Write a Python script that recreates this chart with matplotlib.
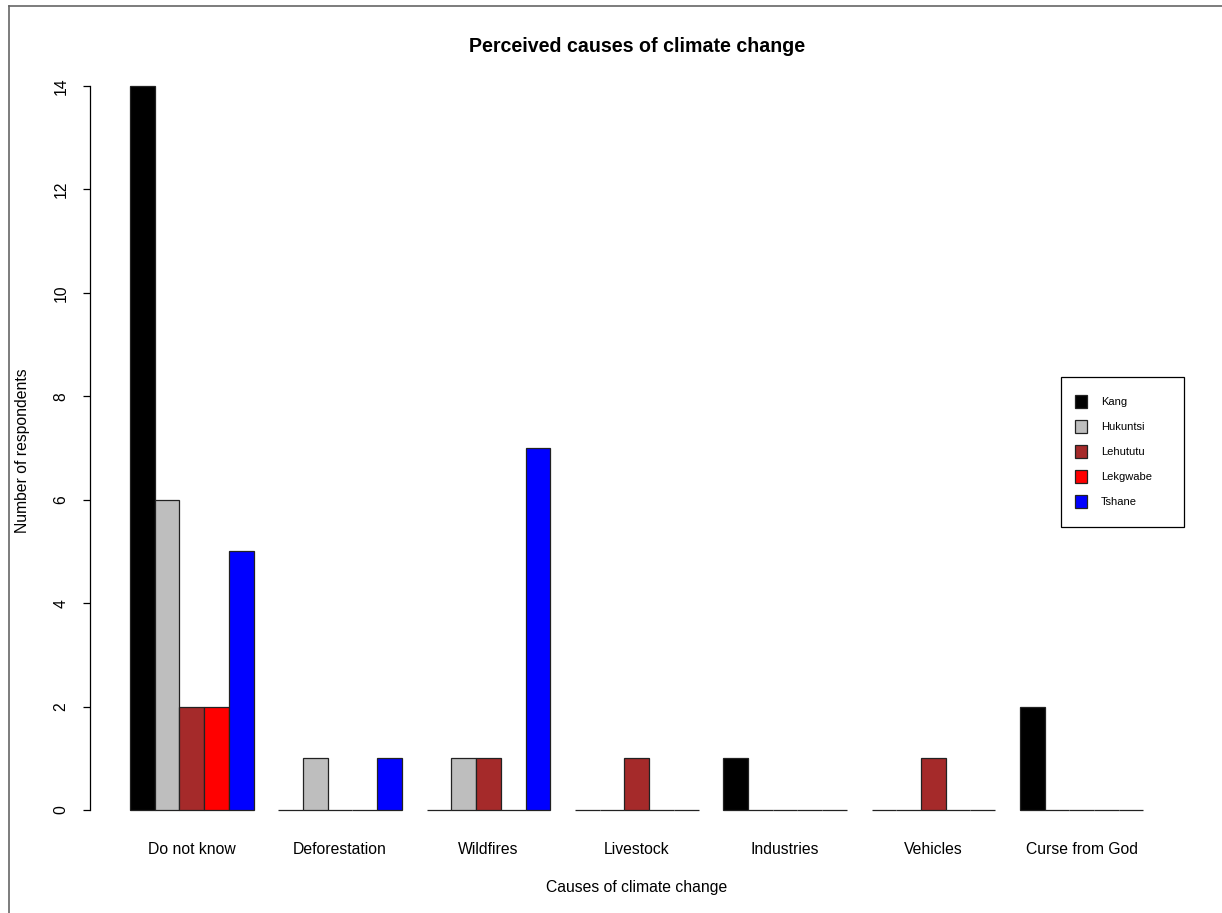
import numpy as np
import matplotlib
matplotlib.use("Agg")
import matplotlib.pyplot as plt
from matplotlib.patches import Rectangle
from matplotlib.lines import Line2D

plt.rcParams['font.family'] = ['Liberation Sans', 'DejaVu Sans']

# Data: respondents per perceived cause, by village
causes = ["Do not know", "Deforestation", "Wildfires", "Livestock",
          "Industries", "Vehicles", "Curse from God"]
villages = ["Kang", "Hukuntsi", "Lehututu", "Lekgwabe", "Tshane"]
kang = [14, 0, 0, 0, 1, 0, 2]
hukuntsi = [6, 1, 1, 0, 0, 0, 0]
lehututu = [2, 0, 1, 1, 0, 1, 0]
lekgwabe = [2, 0, 0, 0, 0, 0, 0]
tshane = [5, 1, 7, 0, 0, 0, 0]
colors = ["black", "#BEBEBE", "#A52A2A", "red", "blue"]
yticks = [0, 2, 4, 6, 8, 10, 12, 14]

series = [kang, hukuntsi, lehututu, lekgwabe, tshane]

W, H = 1222, 913
fig = plt.figure(figsize=(W / 100, H / 100), dpi=100)
ax = fig.add_axes([89.5 / W, 74 / H, (1184 - 89.5) / W, (839 - 57) / H])

# grouped bars, unit width, one empty slot between groups
n_s = len(series)
group_left = np.arange(len(causes)) * (n_s + 1) + 1
for j, (vals, col) in enumerate(zip(series, colors)):
    ax.bar(group_left + j, vals, width=1.0, align='edge', color=col,
           edgecolor='#222222', linewidth=0.9, zorder=2)

xmin, xmax = group_left[0], group_left[-1] + n_s
pad = 0.04 * (xmax - xmin)
ax.set_xlim(xmin - pad, xmax + pad)
ax.set_ylim(-0.04 * 14, 14 + 0.04 * 14)

for s in ['top', 'right', 'bottom']:
    ax.spines[s].set_visible(False)
ax.spines['left'].set_bounds(0, 14)
ax.spines['left'].set_linewidth(0.9)

ax.set_yticks(yticks)
ax.set_yticklabels([str(v) for v in yticks], rotation=90, va='center',
                   fontsize=11.3)
ax.tick_params(axis='y', length=5, width=0.9, pad=10)

ax.set_xticks(group_left + n_s / 2)
ax.set_xticklabels(causes, fontsize=11.3)
ax.tick_params(axis='x', length=0, pad=2)

fig.text(636.7 / W, 1 - 887 / H, "Causes of climate change", ha='center',
         va='center', fontsize=11.3)
fig.text(23 / W, 1 - 451 / H, "Number of respondents", ha='center',
         va='center', rotation=90, fontsize=11.3)
fig.text(636.7 / W, 1 - 46 / H, "Perceived causes of climate change",
         ha='center', va='center', fontsize=14.1, fontweight='bold')

# legend box
fig.patches.append(Rectangle((1061 / W, 1 - 527 / H), 123 / W, 150 / H,
                             transform=fig.transFigure, facecolor='white',
                             edgecolor='black', linewidth=0.9))
for i, (name, col) in enumerate(zip(villages, colors)):
    yc = 402 + 25 * i
    fig.patches.append(Rectangle((1075 / W, 1 - (yc + 6.5) / H), 12 / W,
                                 13 / H, transform=fig.transFigure,
                                 facecolor=col, edgecolor='#222222',
                                 linewidth=0.9))
    fig.text(1101 / W, 1 - yc / H, name, ha='left', va='center',
             fontsize=8)

# outer frame lines (top and left)
fig.lines.append(Line2D([9 / W, 1], [1 - 6 / H, 1 - 6 / H],
                        transform=fig.transFigure, color='#666666',
                        linewidth=1.2))
fig.lines.append(Line2D([9 / W, 9 / W], [0, 1 - 6 / H],
                        transform=fig.transFigure, color='#666666',
                        linewidth=1.2))

fig.savefig("out.png", dpi=100)
